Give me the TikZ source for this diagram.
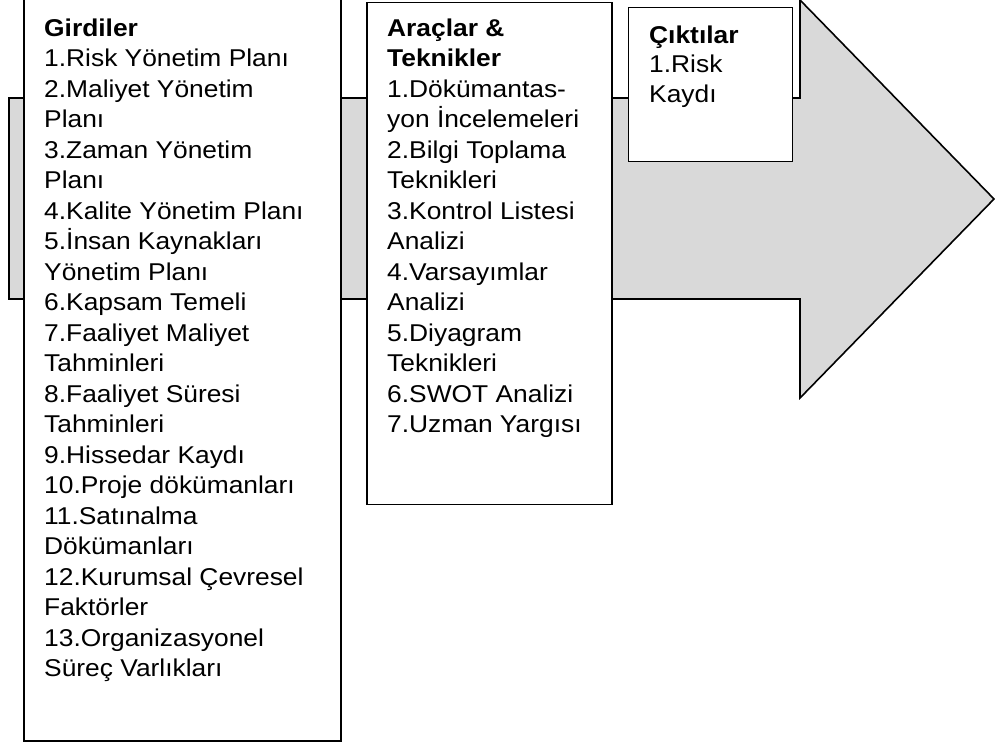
\documentclass[tikz,border=0pt]{standalone}
\usepackage{fontspec}
\setmainfont[FakeStretch=1.085]{Liberation Sans}
\definecolor{arrowgray}{HTML}{D9D9D9}
\newcommand{\listtext}[2]{\parbox[t]{#1}{\raggedright #2}}
\begin{document}
\begin{tikzpicture}[x=1pt,y=-1pt,
  panel/.style={draw=black,line width=1.6pt,fill=white,inner sep=0pt,anchor=north west},
  label/.style={anchor=base west,inner sep=0pt,align=left,
    font=\fontsize{24.3}{30.5}\selectfont},
  flow/.style={draw=black,line width=1.6pt,fill=arrowgray,line join=miter}]
\useasboundingbox (0,0) rectangle (995,745);
% block arrow running behind the three panels
\draw[flow] (9,98) -- (800,98) -- (800,0) -- (994,199) -- (800,398)
  -- (800,299) -- (9,299) -- cycle;
% panels
\node[panel,minimum width=317pt,minimum height=742pt] (inputs) at (23,-2) {};
\node[panel,minimum width=245pt,minimum height=502pt] (tools) at (366,1.5) {};
\node[panel,line width=1.3pt,minimum width=164pt,minimum height=154pt] (outputs) at (628,7) {};
% panel texts
\node[label] (inputstext) at (44,36) {\listtext{290pt}{%
\textbf{Girdiler}\\
1.Risk Yönetim Planı\\
2.Maliyet Yönetim\\
Planı\\
3.Zaman Yönetim\\
Planı\\
4.Kalite Yönetim Planı\\
5.İnsan Kaynakları\\
Yönetim Planı\\
6.Kapsam Temeli\\
7.Faaliyet Maliyet\\
Tahminleri\\
8.Faaliyet Süresi\\
Tahminleri\\
9.Hissedar Kaydı\\
10.Proje dökümanları\\
11.Satınalma\\
Dökümanları\\
12.Kurumsal Çevresel\\
Faktörler\\
13.Organizasyonel\\
Süreç Varlıkları}};
\node[label] (toolstext) at (387,36) {\listtext{220pt}{%
\textbf{Araçlar \&}\\
\textbf{Teknikler}\\
1.Dökümantas-\\
yon İncelemeleri\\
2.Bilgi Toplama\\
Teknikleri\\
3.Kontrol Listesi\\
Analizi\\
4.Varsayımlar\\
Analizi\\
5.Diyagram\\
Teknikleri\\
6.SWOT Analizi\\
7.Uzman Yargısı}};
\node[label] (outputstext) at (649,43) {\fontsize{24.3}{29.5}\selectfont\listtext{140pt}{%
\textbf{Çıktılar}\\
1.Risk\\
Kaydı}};
\end{tikzpicture}
\end{document}
